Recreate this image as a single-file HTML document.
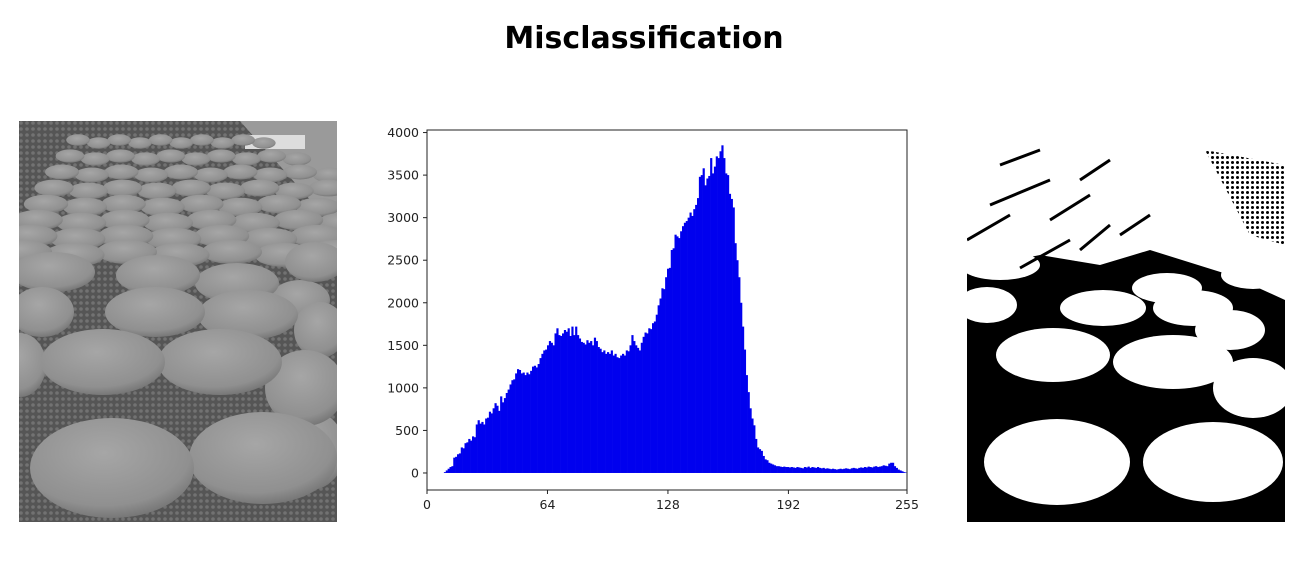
<!DOCTYPE html>
<html><head><meta charset="utf-8"><style>
html,body{margin:0;padding:0;background:#fff;width:1306px;height:574px;overflow:hidden}
#title{position:absolute;left:0;width:1288px;top:21px;text-align:center;font:bold 30px "DejaVu Sans","Liberation Sans",sans-serif;color:#000}
svg{position:absolute;left:0;top:0}
</style></head><body>
<div id="title">Misclassification</div>
<svg id="s" width="1306" height="574">
<defs>
<radialGradient id="ck" cx="0.45" cy="0.35" r="0.7"><stop offset="0" stop-color="#a6a6a6"/><stop offset="0.75" stop-color="#909090"/><stop offset="1" stop-color="#6e6e6e"/></radialGradient>
<pattern id="belt" width="6" height="6" patternUnits="userSpaceOnUse"><rect width="6" height="6" fill="#555"/><circle cx="3" cy="3" r="1.8" fill="#727272"/></pattern>
<pattern id="grid" width="5" height="5" patternUnits="userSpaceOnUse"><rect width="5" height="5" fill="#fff"/><circle cx="2.5" cy="2.5" r="1.5" fill="#000"/></pattern>
<clipPath id="c1"><rect x="19" y="121" width="318" height="401"/></clipPath>
<clipPath id="c2"><rect x="967" y="121" width="318" height="401"/></clipPath>
</defs>
<g id="photo" clip-path="url(#c1)">
<rect x="19" y="121" width="318" height="401" fill="url(#belt)"/>
<polygon points="240,121 337,121 337,230" fill="#9a9a9a"/>
<rect x="245" y="135" width="60" height="14" fill="#ddd"/>
</g>
<g id="binary" clip-path="url(#c2)">
<rect x="967" y="121" width="318" height="401" fill="#000"/>
<polygon points="967,121 1285,121 1285,300 1230,275 1150,250 1100,265 1040,255 967,270" fill="#fff"/>
<polygon points="1205,150 1285,165 1285,245 1250,235" fill="url(#grid)"/>
</g>
<g id="hist"></g>
</svg>
<script>
const counts=[0,0,0,0,0,0,0,0,0,10,30,50,70,80,180,190,
220,230,300,290,350,360,400,380,430,420,570,620,580,600,570,640,
650,720,700,760,820,790,730,900,830,880,940,980,1040,1090,1100,1170,
1220,1210,1170,1180,1150,1180,1160,1200,1250,1260,1240,1280,1350,1400,1440,1450,
1500,1550,1530,1500,1640,1700,1620,1610,1640,1680,1660,1700,1610,1720,1620,1720,
1620,1580,1540,1530,1510,1560,1530,1550,1500,1590,1550,1480,1460,1420,1440,1400,
1420,1400,1440,1380,1400,1360,1350,1380,1400,1380,1440,1430,1500,1620,1550,1500,
1470,1440,1530,1600,1650,1640,1700,1690,1760,1780,1860,1970,2050,2170,2160,2300,
2400,2410,2620,2640,2800,2780,2760,2840,2900,2940,2960,3000,3060,3020,3100,3150,
3230,3480,3500,3580,3380,3460,3490,3700,3520,3600,3720,3700,3780,3850,3700,3520,
3500,3280,3220,3120,2700,2500,2300,2000,1720,1450,1150,950,760,640,560,400,
300,280,260,200,160,150,120,110,100,90,80,80,75,70,75,70,
70,65,70,65,60,70,65,60,55,70,65,75,60,70,65,60,
70,60,55,60,50,55,50,45,50,45,40,45,50,45,50,55,
50,45,55,60,55,50,60,65,60,70,65,75,70,65,75,80,
70,75,80,90,85,80,110,120,120,80,60,40,30,20,10,5];
const yTicks=[0,500,1000,1500,2000,2500,3000,3500,4000];
const xTicks=[0,64,128,192,255];
const NS='http://www.w3.org/2000/svg';
function mk(tag,attrs,parent){const e=document.createElementNS(NS,tag);for(const k in attrs)e.setAttribute(k,attrs[k]);parent.appendChild(e);return e;}
const L=427,R=907,T=130,B=490;
const yMin=-200,yMax=4030;
const X=v=>L+(v/255)*(R-L);
const Y=v=>B-(v-yMin)/(yMax-yMin)*(B-T);
const g=document.getElementById('hist');
const bw=(R-L)/256;
counts.forEach((c,i)=>{
  if(c<=0)return;
  const r=mk('rect',{x:X(i*255/256),y:Y(c),width:bw+0.3,height:Y(0)-Y(c),fill:'#0000ee'},g);
  
  
});
const frame=mk('rect',{x:L,y:T,width:R-L,height:B-T,fill:'none',stroke:'#222','stroke-width':1},g);


yTicks.forEach(v=>{
  mk('line',{x1:L-4,x2:L,y1:Y(v),y2:Y(v),stroke:'#222'},g);
  const t=mk('text',{x:L-8,y:Y(v)+4.5,'text-anchor':'end','font-size':12.5,'font-family':'DejaVu Sans, Liberation Sans, sans-serif',fill:'#222'},g);
  t.textContent=v;
  
  
});
xTicks.forEach(v=>{
  mk('line',{x1:X(v),x2:X(v),y1:B,y2:B+4,stroke:'#222'},g);
  const t=mk('text',{x:X(v),y:B+19,'text-anchor':'middle','font-size':12.5,'font-family':'DejaVu Sans, Liberation Sans, sans-serif',fill:'#222'},g);
  t.textContent=v;
  
  
});
// decorative cookies
const photo=document.getElementById('photo'),bin=document.getElementById('binary');
const big=[[112,468,82,50],[263,458,74,46],[103,362,62,33],[220,362,62,33],[305,388,40,38],[310,450,35,40],[155,312,50,25],[248,315,50,25],[42,312,32,25],[53,272,42,20],[158,275,42,20],[237,283,42,20],[315,262,30,20],[20,365,26,32],[320,330,26,28],[300,300,30,20]];
for(let r=0;r<8;r++){const yy=252-r*16,ry=12-r*0.9,rx=30-r*2.6;for(let k=0;k<10;k++){big.push([22+k*(rx*1.75)+r*8,yy+(k%2)*3,rx,ry]);}}
big.slice().reverse().forEach(c=>{mk('ellipse',{cx:c[0],cy:c[1],rx:c[2],ry:c[3],fill:'url(#ck)'},photo);});
const wb=[[1057,462,73,43],[1213,462,70,40],[1053,355,57,27],[1173,362,60,27],[1253,388,40,30],[1103,308,43,18],[1193,308,40,18],[987,305,30,18],[1090,248,35,14],[1167,288,35,15],[1253,275,32,14],[1000,265,40,15],[1230,330,35,20]];
wb.forEach(c=>{mk('ellipse',{cx:c[0],cy:c[1],rx:c[2],ry:c[3],fill:'#fff'},bin);});
[[967,240,1010,215],[1020,268,1070,240],[1080,250,1110,225],[1120,235,1150,215],[990,205,1050,180],[1050,220,1090,195],[1000,165,1040,150],[1080,180,1110,160]].forEach(s=>{mk('line',{x1:s[0],y1:s[1],x2:s[2],y2:s[3],stroke:'#000','stroke-width':3},bin);});
</script>
</body></html>
